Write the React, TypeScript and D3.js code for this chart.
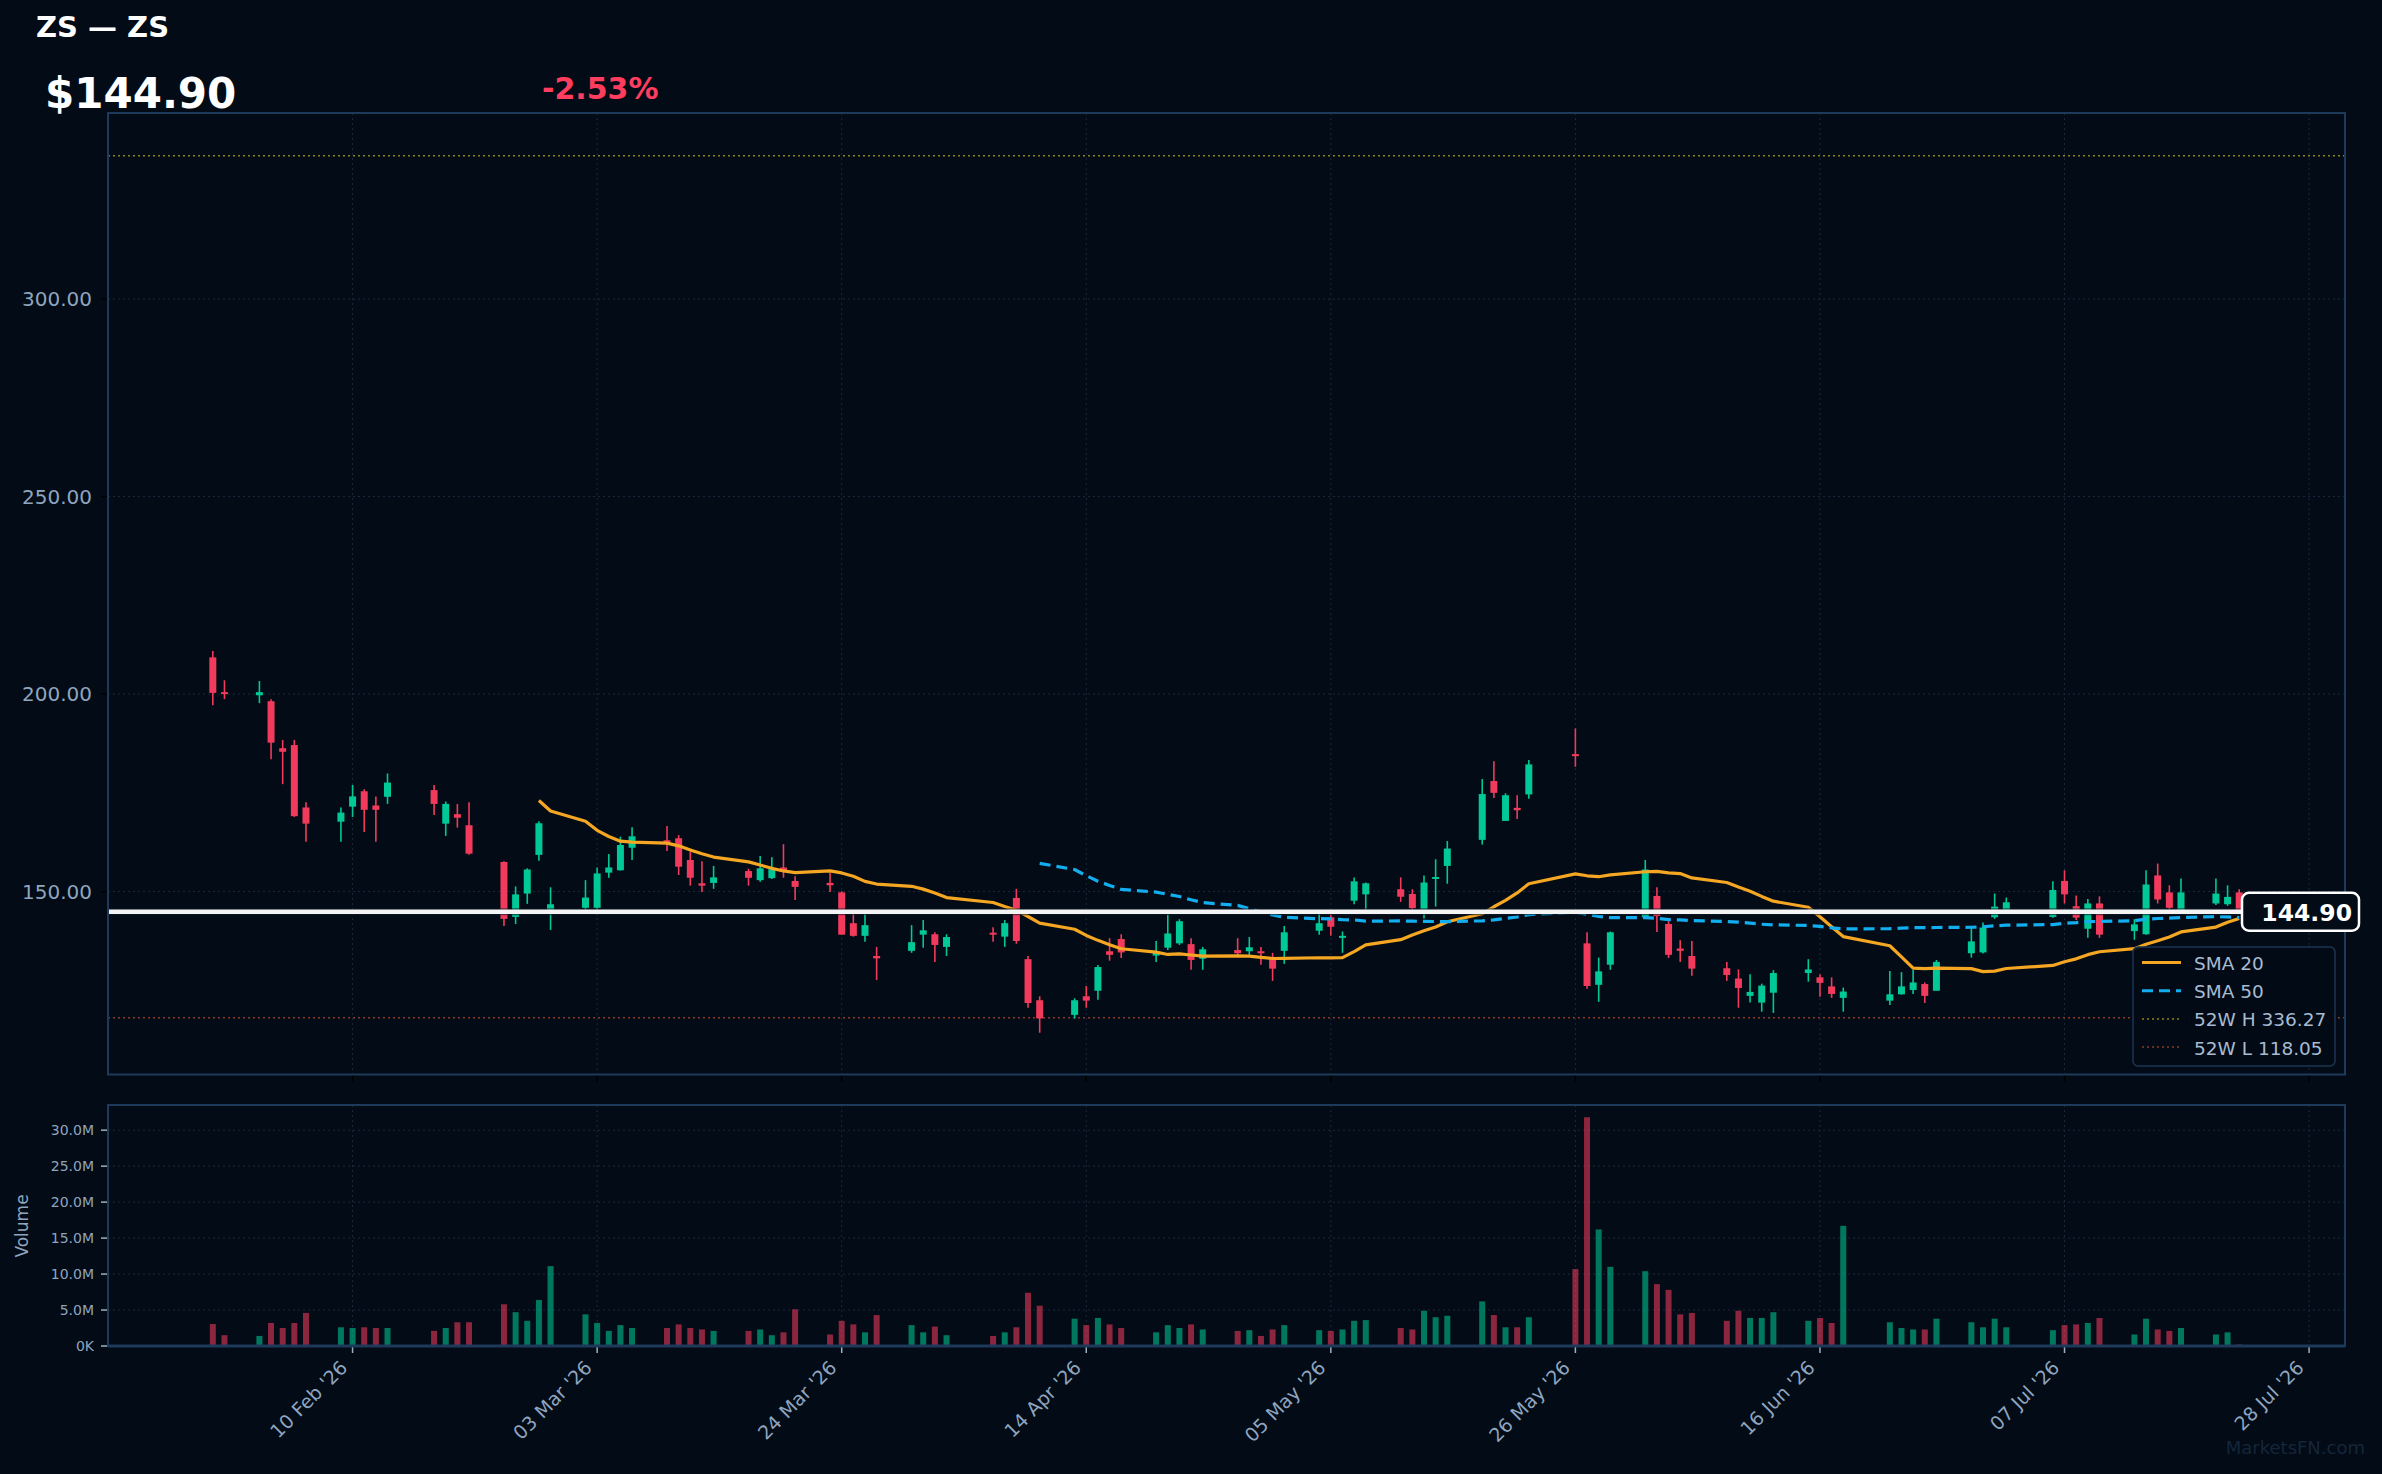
import React from 'react';
import * as d3 from 'd3';

// ---------- DATA ----------
const dates = [
  '2026-01-29','2026-01-30','2026-02-02','2026-02-03','2026-02-04','2026-02-05','2026-02-06',
  '2026-02-09','2026-02-10','2026-02-11','2026-02-12','2026-02-13',
  '2026-02-17','2026-02-18','2026-02-19','2026-02-20',
  '2026-02-23','2026-02-24','2026-02-25','2026-02-26','2026-02-27',
  '2026-03-02','2026-03-03','2026-03-04','2026-03-05','2026-03-06',
  '2026-03-09','2026-03-10','2026-03-11','2026-03-12','2026-03-13',
  '2026-03-16','2026-03-17','2026-03-18','2026-03-19','2026-03-20',
  '2026-03-23','2026-03-24','2026-03-25','2026-03-26','2026-03-27',
  '2026-03-30','2026-03-31','2026-04-01','2026-04-02',
  '2026-04-06','2026-04-07','2026-04-08','2026-04-09','2026-04-10',
  '2026-04-13','2026-04-14','2026-04-15','2026-04-16','2026-04-17',
  '2026-04-20','2026-04-21','2026-04-22','2026-04-23','2026-04-24',
  '2026-04-27','2026-04-28','2026-04-29','2026-04-30','2026-05-01',
  '2026-05-04','2026-05-05','2026-05-06','2026-05-07','2026-05-08',
  '2026-05-11','2026-05-12','2026-05-13','2026-05-14','2026-05-15',
  '2026-05-18','2026-05-19','2026-05-20','2026-05-21','2026-05-22',
  '2026-05-26','2026-05-27','2026-05-28','2026-05-29',
  '2026-06-01','2026-06-02','2026-06-03','2026-06-04','2026-06-05',
  '2026-06-08','2026-06-09','2026-06-10','2026-06-11','2026-06-12',
  '2026-06-15','2026-06-16','2026-06-17','2026-06-18',
  '2026-06-22','2026-06-23','2026-06-24','2026-06-25','2026-06-26',
  '2026-06-29','2026-06-30','2026-07-01','2026-07-02',
  '2026-07-06','2026-07-07','2026-07-08','2026-07-09','2026-07-10',
  '2026-07-13','2026-07-14','2026-07-15','2026-07-16','2026-07-17',
  '2026-07-20','2026-07-21','2026-07-22'
];
const opens = [
  209.3,200.5,199.7,198.2,186.3,187.1,171.3,
  167.7,171.5,175.4,171.8,174.0,
  175.7,167.2,169.6,166.8,
  157.5,143.6,149.5,159.3,144.6,
  145.9,145.9,154.8,155.4,161.1,
  163.0,163.5,158.0,152.1,152.2,
  155.2,152.9,153.4,156.1,152.7,
  152.2,149.8,142.0,138.8,133.7,
  135.0,139.1,139.2,136.0,
  139.6,138.6,148.4,132.9,122.5,
  118.8,123.5,124.9,134.9,138.0,
  133.8,135.8,136.9,136.7,133.0,
  135.2,134.9,134.9,133.2,135.0,
  140.1,143.5,138.4,147.7,149.3,
  150.6,149.4,145.5,153.2,156.5,
  163.1,178.0,167.9,171.2,174.6,
  184.8,136.9,126.4,131.5,
  143.5,148.9,141.8,135.6,133.7,
  130.6,128.0,123.6,121.9,124.4,
  129.4,128.3,126.0,123.1,
  122.4,124.0,125.1,126.6,124.9,
  134.4,134.6,143.5,145.3,
  143.6,152.7,146.3,140.6,147.0,
  140.0,139.2,154.1,149.8,145.1,
  147.0,146.8,149.8
];
const highs = [
  210.9,203.5,203.3,198.7,188.4,188.4,172.6,
  171.3,177.0,175.9,174.1,179.9,
  177.0,172.8,172.2,172.6,
  157.7,151.3,155.9,167.8,151.1,
  152.9,156.1,159.5,163.9,166.3,
  166.6,164.3,160.1,157.7,156.5,
  155.8,159.0,158.7,162.0,153.9,
  154.8,150.1,144.5,144.5,136.0,
  141.5,142.8,139.7,139.2,
  141.0,142.8,150.7,133.7,123.5,
  123.0,126.1,131.4,138.2,139.2,
  137.5,144.2,143.0,138.2,136.0,
  138.2,138.5,136.0,134.5,141.3,
  144.9,144.5,139.9,153.6,152.3,
  153.6,150.6,154.1,158.2,162.8,
  178.5,183.0,174.9,174.4,183.3,
  191.3,139.7,133.3,139.9,
  158.0,151.1,142.5,137.7,137.5,
  132.2,130.3,129.1,126.7,130.1,
  132.9,129.1,128.3,125.7,
  129.9,129.6,130.2,127.0,132.7,
  140.9,142.2,149.5,148.5,
  152.6,155.4,149.0,148.1,148.8,
  143.0,155.4,157.1,151.6,153.3,
  153.3,151.6,150.6
];
const lows = [
  197.2,198.7,197.7,183.5,177.2,168.9,162.6,
  162.6,168.9,165.1,162.6,172.2,
  169.4,164.1,166.2,159.3,
  141.3,141.8,146.9,157.8,140.3,
  144.9,144.2,153.5,155.3,158.0,
  160.3,154.2,151.5,149.9,150.7,
  151.5,152.5,153.2,153.5,147.9,
  149.9,139.1,138.6,137.3,127.6,
  134.5,135.8,132.2,133.7,
  137.3,136.0,136.8,120.6,114.3,
  117.9,120.6,122.6,132.5,133.2,
  132.2,135.2,136.5,130.2,130.2,
  133.9,133.7,131.5,127.4,131.7,
  139.1,138.8,134.5,146.8,145.4,
  147.4,145.3,143.2,146.2,152.0,
  161.9,173.7,167.9,168.4,173.5,
  181.6,125.4,122.1,130.2,
  143.5,139.8,133.2,132.2,128.7,
  127.4,120.6,121.9,119.6,119.3,
  127.2,123.4,123.1,119.6,
  121.3,123.9,124.1,121.8,124.9,
  133.3,134.3,143.1,144.9,
  143.4,147.0,142.8,138.3,138.3,
  137.8,139.1,147.0,145.5,145.1,
  146.6,146.4,144.5
];
const closes = [
  200.3,200.0,200.5,187.7,185.4,169.1,167.2,
  170.0,174.1,170.7,170.7,177.6,
  172.2,172.2,168.7,159.6,
  143.1,149.3,155.6,167.3,146.8,
  148.5,154.6,156.1,161.8,164.0,
  162.5,156.3,153.5,151.5,153.6,
  153.5,155.9,155.7,155.4,151.2,
  151.6,139.1,138.8,141.5,133.1,
  137.2,140.2,136.5,138.5,
  139.3,142.0,137.5,121.8,117.9,
  122.5,122.4,130.9,134.0,134.6,
  134.5,139.4,142.5,132.7,135.4,
  134.4,135.9,134.5,130.5,139.7,
  142.0,141.1,138.8,152.6,152.1,
  148.7,145.8,152.3,153.7,160.9,
  174.7,175.0,174.4,170.6,182.2,
  184.4,126.1,129.8,139.7,
  155.6,143.8,134.0,135.0,130.5,
  128.9,125.6,124.6,126.2,129.4,
  130.3,126.9,124.1,124.7,
  124.0,126.0,127.0,123.6,132.2,
  137.4,140.9,146.2,147.3,
  150.4,149.3,143.4,147.0,139.1,
  141.7,151.8,148.0,145.9,149.8,
  149.5,148.66,144.90
];
const volumesM = [
  3.05,1.5,1.4,3.2,2.5,3.2,4.6,
  2.6,2.5,2.6,2.5,2.5,
  2.1,2.5,3.3,3.3,
  5.8,4.7,3.5,6.4,11.1,
  4.4,3.2,2.1,2.9,2.5,
  2.5,3.0,2.5,2.3,2.1,
  2.1,2.3,1.5,1.9,5.1,
  1.6,3.5,3.0,1.9,4.3,
  2.9,1.9,2.7,1.5,
  1.4,1.9,2.6,7.4,5.6,
  3.8,2.9,3.9,3.0,2.5,
  1.9,2.9,2.5,3.0,2.3,
  2.1,2.2,1.4,2.3,2.9,
  2.2,2.1,2.3,3.5,3.6,
  2.5,2.3,4.9,4.0,4.2,
  6.2,4.3,2.6,2.6,4.0,
  10.7,31.8,16.2,11.0,
  10.4,8.6,7.8,4.4,4.6,
  3.5,4.9,3.9,3.9,4.7,
  3.5,3.9,3.2,16.7,
  3.3,2.5,2.3,2.3,3.8,
  3.3,2.6,3.8,2.6,
  2.2,2.9,3.0,3.2,3.9,
  1.6,3.8,2.3,2.1,2.5,
  1.6,1.9,0.2
];
const priceTicks = [150, 200, 250, 300];
const volumeTicks = [0, 5, 10, 15, 20, 25, 30];
const dateTicks = ['2026-02-10','2026-03-03','2026-03-24','2026-04-14','2026-05-05','2026-05-26','2026-06-16','2026-07-07','2026-07-28'];
const ticker = 'ZS';
const lastPrice = 144.90;
const changePct = -2.53;
const high52 = 336.27;
const low52 = 118.05;

// ---------- LAYOUT / STYLE ----------
const W = 2382, H = 1474;
const L = 108, R = 2345;
const PT = 113, PB = 1074.5;
const VT = 1105, VB = 1346;
const BG = '#020b16';
const BORDER = '#1e3a5a';
const GRID = '#1a2a3d';
const UP = '#00c896';
const DN = '#f23b5c';
const TXT = '#8fa5bf';
const FONT = 'DejaVu Sans, sans-serif';

export default function App() {
  const parse = d3.utcParse('%Y-%m-%d');
  const data = dates.map((d, i) => ({
    date: parse(d) as Date, o: opens[i], h: highs[i], l: lows[i], c: closes[i], v: volumesM[i],
  }));

  const x = d3.scaleUtc()
    .domain([new Date(Date.UTC(2026, 0, 20)), new Date(Date.UTC(2026, 6, 31, 2))])
    .range([L, R]);
  const y = d3.scaleLinear().domain([103.7, 347.1]).range([PB, PT]);
  const yv = d3.scaleLinear().domain([0, 33.5]).range([VB, VT]);

  const sma = (n: number) => data.map((d, i) => i < n - 1 ? null : { date: d.date, v: d3.mean(closes.slice(i - n + 1, i + 1)) as number })
    .filter(Boolean) as { date: Date; v: number }[];
  const line = d3.line<{ date: Date; v: number }>().x(d => x(d.date)).y(d => y(d.v));
  const sma20 = line(sma(20)) || '';
  const sma50 = line(sma(50)) || '';

  const fmtDate = d3.utcFormat("%d %b '%y");
  const tickDates = dateTicks.map(d => parse(d) as Date);
  const bodyW = 7, volW = 6;

  return (
    <div style={{ position: 'absolute', left: 0, top: 0, width: W, height: H, background: BG }}>
      <svg width={W} height={H} style={{ display: 'block' }} fontFamily={FONT}>
        <rect x={0} y={0} width={W} height={H} fill={BG} />
        <defs>
          <clipPath id="pclip"><rect x={L} y={PT} width={R - L} height={PB - PT} /></clipPath>
          <clipPath id="vclip"><rect x={L} y={VT} width={R - L} height={VB - VT} /></clipPath>
        </defs>

        {/* header */}
        <text x={36} y={37} fill="#ffffff" fontSize={29} fontWeight="bold">{`${ticker} — ${ticker}`}</text>
        <text x={45} y={108} fill="#ffffff" fontSize={42} fontWeight="bold">{`$${lastPrice.toFixed(2)}`}</text>
        <text x={542} y={99} fill="#ff3d5f" fontSize={30} fontWeight="bold">{`${changePct.toFixed(2)}%`}</text>

        {/* price panel grid */}
        <g>
          {priceTicks.map(t => (
            <g key={t}>
              <line x1={L} x2={R} y1={y(t)} y2={y(t)} stroke={GRID} strokeWidth={1} strokeDasharray="2,3" />
              <line x1={L - 7} x2={L} y1={y(t)} y2={y(t)} stroke="#000" strokeWidth={1.5} />
              <text x={92} y={y(t)} fill={TXT} fontSize={20} textAnchor="end" dominantBaseline="central">{t.toFixed(2)}</text>
            </g>
          ))}
          {tickDates.map((d, i) => (
            <g key={i}>
              <line x1={x(d)} x2={x(d)} y1={PT} y2={PB} stroke={GRID} strokeWidth={1} strokeDasharray="2,3" />
              <line x1={x(d)} x2={x(d)} y1={PB} y2={PB + 7} stroke="#000" strokeWidth={1.5} />
            </g>
          ))}
        </g>

        {/* 52w lines */}
        <line x1={L} x2={R} y1={y(high52)} y2={y(high52)} stroke="#8c8419" strokeWidth={1.5} strokeDasharray="2,3" />
        <line x1={L} x2={R} y1={y(low52)} y2={y(low52)} stroke="#8a3a28" strokeWidth={1.5} strokeDasharray="2,3" />

        {/* candles */}
        <g clipPath="url(#pclip)">
          {data.map((d, i) => {
            const col = d.c >= d.o ? UP : DN;
            const cx = x(d.date);
            const top = y(Math.max(d.o, d.c));
            const hh = Math.max(2, Math.abs(y(d.o) - y(d.c)));
            return (
              <g key={i}>
                <line x1={cx} x2={cx} y1={y(d.h)} y2={y(d.l)} stroke={col} strokeWidth={1.6} />
                <rect x={cx - bodyW / 2} y={top} width={bodyW} height={hh} fill={col} />
              </g>
            );
          })}
          <path d={sma20} fill="none" stroke="#f5a623" strokeWidth={3.2} strokeLinejoin="round" />
          <path d={sma50} fill="none" stroke="#12aef0" strokeWidth={3.2} strokeDasharray="11,6" />
        </g>

        {/* last price line */}
        <line x1={L} x2={R} y1={y(lastPrice)} y2={y(lastPrice)} stroke="#0d1a28" strokeWidth={7} opacity={0.6} />
        <line x1={L} x2={R} y1={y(lastPrice)} y2={y(lastPrice)} stroke="#f4f4f4" strokeWidth={4.5} />

        {/* price panel border */}
        <rect x={L} y={PT} width={R - L} height={PB - PT} fill="none" stroke={BORDER} strokeWidth={2} />

        {/* last price label */}
        <rect x={2242} y={y(lastPrice) - 19} width={117} height={38} rx={7} fill={BG} stroke="#ffffff" strokeWidth={2.5} />
        <text x={2352} y={y(lastPrice) + 1} fill="#ffffff" fontSize={23.5} fontWeight="bold" textAnchor="end" dominantBaseline="central">{lastPrice.toFixed(2)}</text>

        {/* legend */}
        <g>
          <rect x={2133} y={947} width={202} height={119} rx={5} fill={BG} fillOpacity={0.92} stroke="#1e3552" strokeWidth={1.5} />
          {[
            { label: 'SMA 20', color: '#f5a623', dash: undefined, w: 3 },
            { label: 'SMA 50', color: '#12aef0', dash: '11,6', w: 3 },
            { label: `52W H ${high52.toFixed(2)}`, color: '#8c8419', dash: '2,3', w: 1.5 },
            { label: `52W L ${low52.toFixed(2)}`, color: '#8a3a28', dash: '2,3', w: 1.5 },
          ].map((it, i) => {
            const ry = 962.5 + i * 28.2;
            return (
              <g key={i}>
                <line x1={2142} x2={2181} y1={ry} y2={ry} stroke={it.color} strokeWidth={it.w} strokeDasharray={it.dash} />
                <text x={2194} y={ry + 1} fill="#a7bbd1" fontSize={18.5} dominantBaseline="central">{it.label}</text>
              </g>
            );
          })}
        </g>

        {/* volume panel */}
        <g>
          {volumeTicks.map(t => (
            <g key={t}>
              <line x1={L} x2={R} y1={yv(t)} y2={yv(t)} stroke={GRID} strokeWidth={1} strokeDasharray="2,3" />
              <line x1={L - 7} x2={L} y1={yv(t)} y2={yv(t)} stroke="#9fb0c4" strokeWidth={1.5} />
              <text x={94} y={yv(t)} fill={TXT} fontSize={14} textAnchor="end" dominantBaseline="central">{t === 0 ? '0K' : `${t.toFixed(1)}M`}</text>
            </g>
          ))}
          {tickDates.map((d, i) => (
            <g key={i}>
              <line x1={x(d)} x2={x(d)} y1={VT} y2={VB} stroke={GRID} strokeWidth={1} strokeDasharray="2,3" />
              <line x1={x(d)} x2={x(d)} y1={VB} y2={VB + 7} stroke="#9fb0c4" strokeWidth={1.5} />
              <text transform={`translate(${x(d) - 4},${1369}) rotate(-45)`} fill={TXT} fontSize={19} textAnchor="end">{fmtDate(d)}</text>
            </g>
          ))}
          <g clipPath="url(#vclip)">
            {data.map((d, i) => (
              <rect key={i} x={x(d.date) - volW / 2} y={yv(d.v)} width={volW} height={VB - yv(d.v)}
                fill={d.c >= d.o ? UP : DN} fillOpacity={0.58} />
            ))}
          </g>
          <rect x={L} y={VT} width={R - L} height={VB - VT} fill="none" stroke={BORDER} strokeWidth={2} />
          <line x1={L} x2={R} y1={VB} y2={VB} stroke={BORDER} strokeWidth={3} />
          <text transform={`translate(22,1226) rotate(-90)`} fill={TXT} fontSize={17} textAnchor="middle" dominantBaseline="central">Volume</text>
        </g>

        {/* watermark */}
        <text x={2365} y={1454} fill="#15263a" fontSize={18} textAnchor="end">MarketsFN.com</text>
      </svg>
    </div>
  );
}
